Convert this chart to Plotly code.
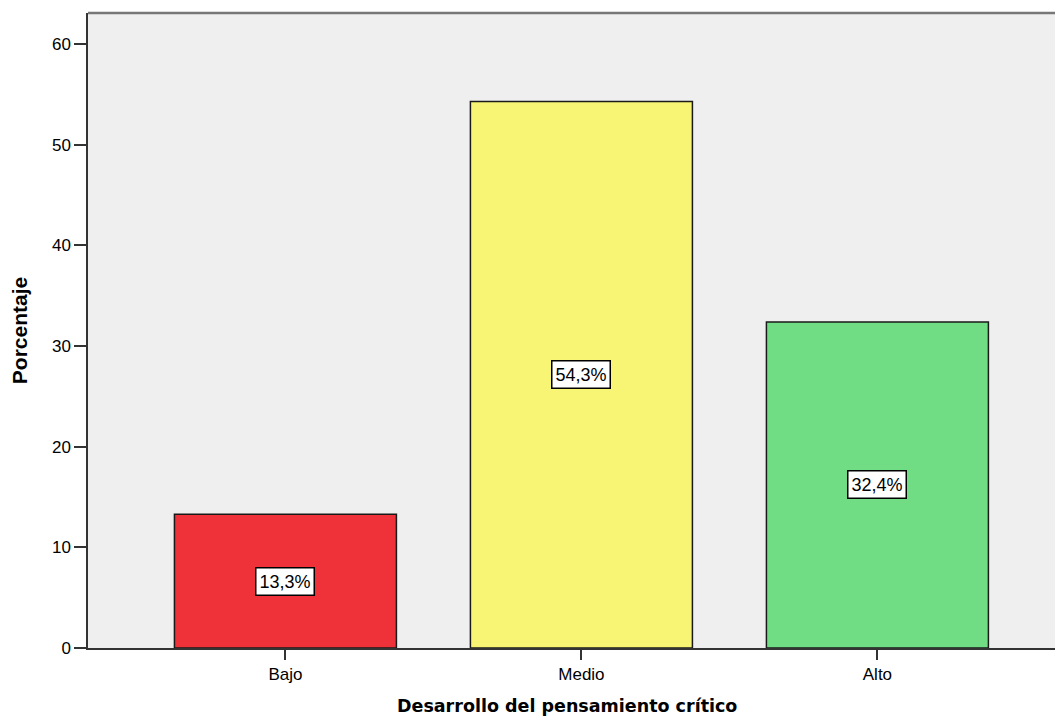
import plotly.graph_objects as go

categories = ["Bajo", "Medio", "Alto"]
percentages = [13.3, 54.3, 32.4]
labels = ["13,3%", "54,3%", "32,4%"]
colors = ["#EF3139", "#F9F574", "#70DC84"]
y_ticks = [0, 10, 20, 30, 40, 50, 60]

fig = go.Figure()
fig.add_trace(go.Bar(
    x=categories, y=percentages, width=0.75,
    marker=dict(color=colors, line=dict(color="#1a1a1a", width=1.5)),
    hoverinfo="skip",
))

for c, v, t in zip(categories, percentages, labels):
    fig.add_annotation(
        x=c, y=v / 2, text=t, showarrow=False,
        font=dict(family="Liberation Sans, Arial", size=18, color="black"),
        bgcolor="white", bordercolor="black", borderwidth=1.5, borderpad=3,
    )

fig.add_annotation(
    text="Desarrollo del pensamiento crítico", xref="paper", yref="paper",
    x=0.491, y=0, yshift=-58, xanchor="center", yanchor="middle", showarrow=False,
    font=dict(family="DejaVu Sans", size=17.5, color="black", weight="bold"),
)

fig.add_shape(type="line", xref="paper", yref="paper", x0=0, x1=1, y0=1, y1=1,
              line=dict(color="#777777", width=2.5))

# page body adds an 8px offset; size/margins compensate so the plot area lands where the reference has it
fig.update_layout(
    width=1055, height=712,
    margin=dict(l=80, r=0, t=5, b=72),
    paper_bgcolor="white", plot_bgcolor="#EFEFEF",
    showlegend=False, bargap=0.25,
    font=dict(family="Liberation Sans, Arial", color="black"),
)
fig.update_xaxes(
    range=[-0.667, 2.627], showgrid=False, zeroline=False,
    showline=True, linecolor="#333333", linewidth=1.5,
    ticks="outside", ticklen=10, tickwidth=1.5, tickcolor="#333333",
    tickfont=dict(family="Liberation Sans, Arial", size=17),
)
fig.update_yaxes(
    range=[0, 63.1], tickvals=y_ticks, showgrid=False, zeroline=False,
    showline=True, linecolor="#333333", linewidth=1.5,
    ticks="outside", ticklen=12, tickwidth=1.5, tickcolor="#333333",
    tickfont=dict(family="Liberation Sans, Arial", size=17),
    title=dict(text="Porcentaje",
               font=dict(family="Liberation Sans, Arial", size=21, color="black", weight="bold"),
               standoff=20),
)

fig.write_html("out.html")
